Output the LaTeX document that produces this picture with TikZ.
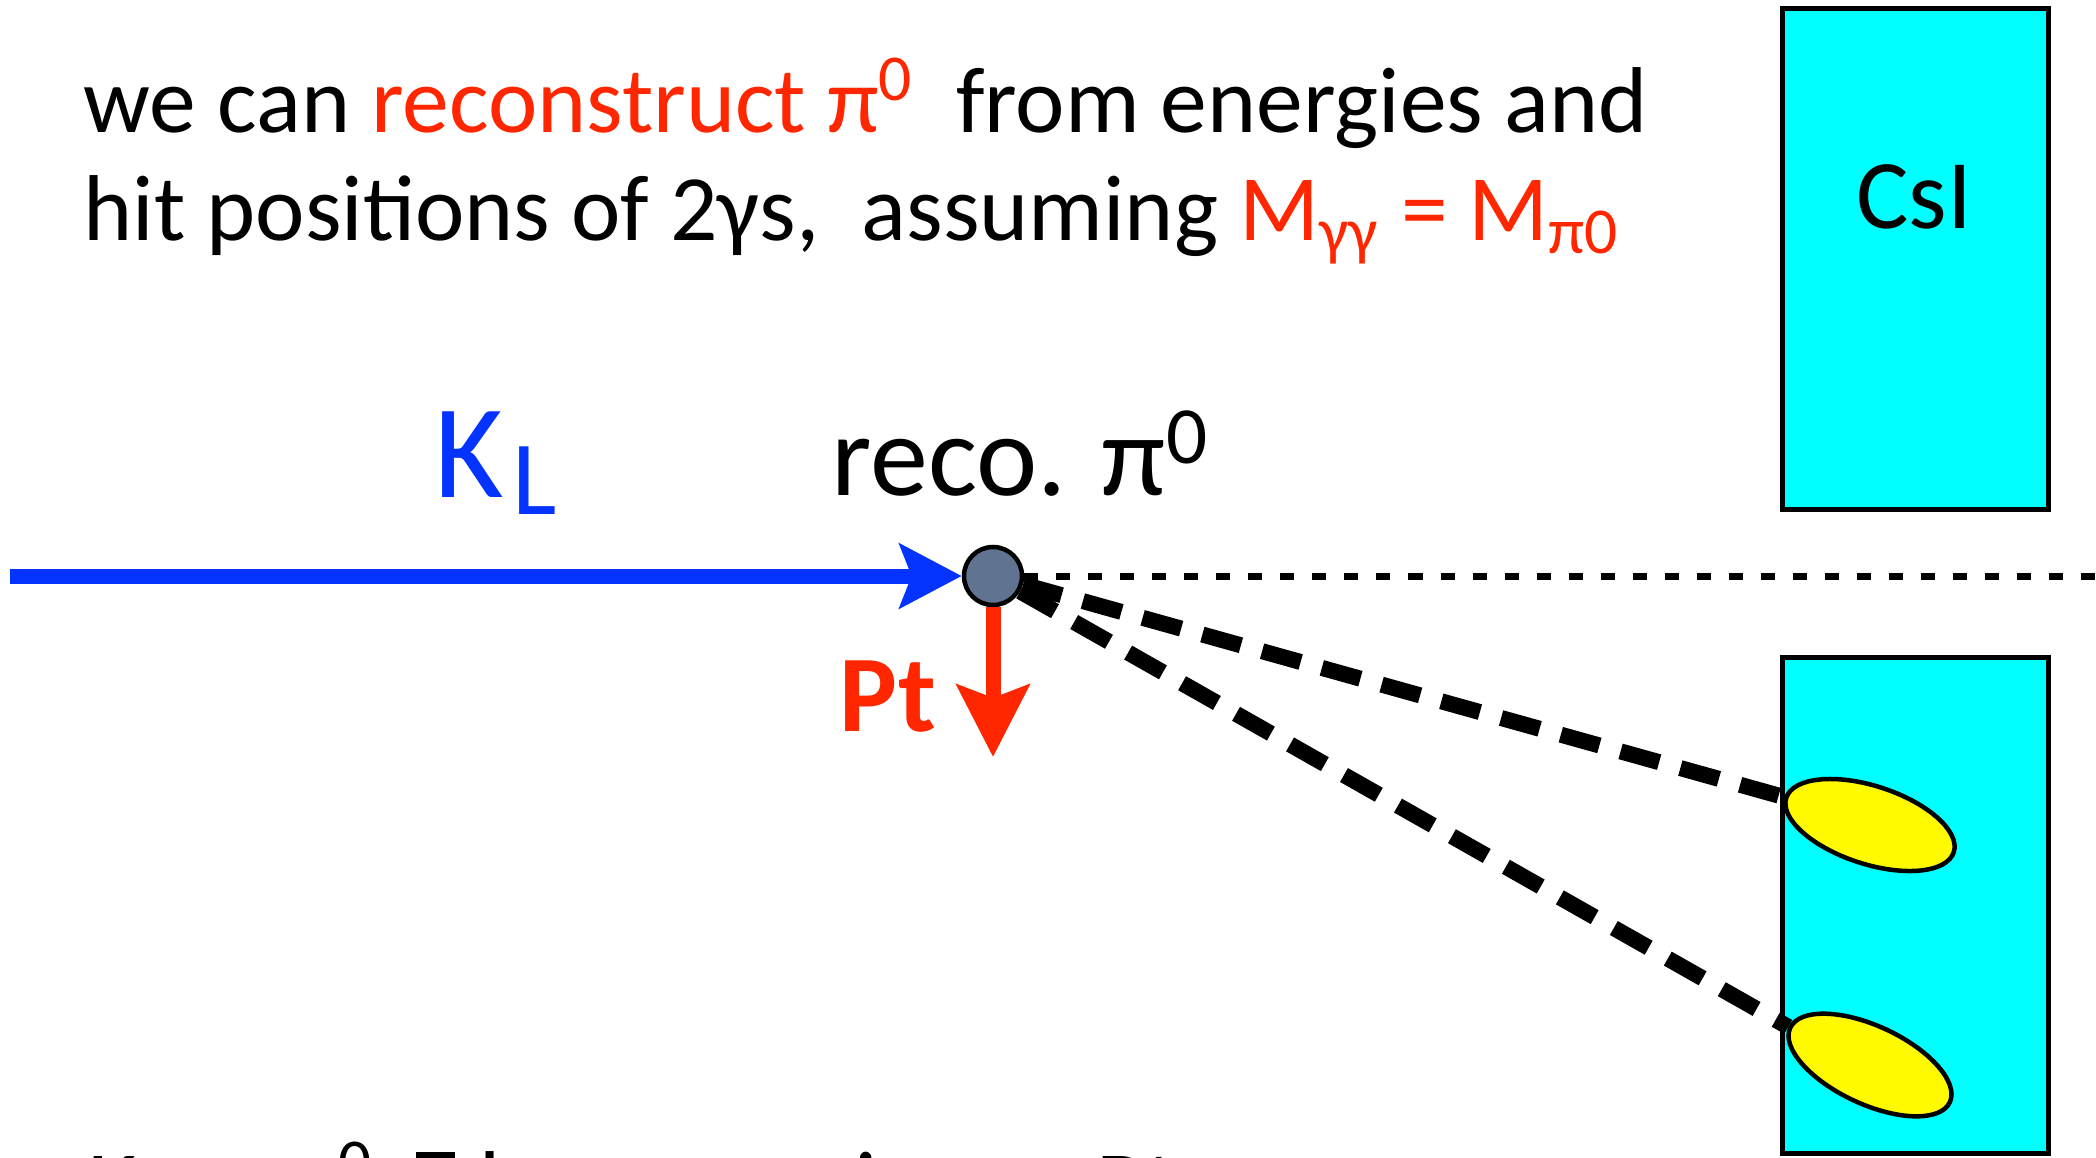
\documentclass[tikz,border=0pt]{standalone}
\usepackage{fontspec}
\setmainfont{Carlito}
\newfontfamily\arrowfont{DejaVu Sans}
\usetikzlibrary{arrows.meta,shapes.geometric,positioning}
\definecolor{keyred}{RGB}{255,38,0}
\definecolor{keyblue}{RGB}{4,51,255}
\definecolor{csicyan}{RGB}{0,255,255}
\definecolor{hityellow}{RGB}{255,250,0}
\definecolor{vtxgray}{RGB}{96,116,145}
\newcommand{\nubar}{\rlap{\raisebox{0.62em}{\rule{0.42em}{0.06em}}}ν}
\tikzset{
  slide/.style={anchor=base west, inner sep=0pt, font=\fontsize{26.6}{32}\selectfont},
  crystal/.style={draw, line width=0.05cm, fill=csicyan},
  hit/.style={ellipse, draw, line width=0.045cm, fill=hityellow, minimum width=1.76cm, minimum height=0.78cm, inner sep=0pt},
  vertex/.style={circle, draw, line width=0.045cm, fill=vtxgray, minimum size=0.58cm, inner sep=0pt},
  beam/.style={keyblue, line width=0.15cm, -{Stealth[length=0.62cm, width=0.64cm, inset=0.12cm]}},
  ptarrow/.style={keyred, line width=0.15cm, -{Stealth[length=0.72cm, width=0.72cm, inset=0.13cm]}},
  photon/.style={line width=0.16cm, dash pattern=on 0.40cm off 0.22cm},
  axisline/.style={line width=0.07cm, dash pattern=on 0.14cm off 0.18cm}
}
\begin{document}
\begin{tikzpicture}[x=0.01cm, y=-0.01cm]
\useasboundingbox (0,0) rectangle (2096,1157);
\clip (0,0) rectangle (2096,1157);
% text on top
\node[slide] (line1) at (83,132) {we can \textcolor{keyred}{reconstruct π\textsuperscript{0}}\ \ from energies and};
\node[slide] (line2) at (83,240) {hit positions of 2γs,\ \ assuming \textcolor{keyred}{M\textsubscript{γγ} = M\textsubscript{π0}}};
% CsI calorimeter
\draw[crystal] (1782,8) rectangle (2048,509);
\draw[crystal] (1782,657) rectangle (2048,1153);
\node[anchor=base, font=\fontsize{28}{30}\selectfont] (csi) at (1914,228) {CsI};
% photon hits
\node[hit, rotate=-18] (hitA) at (1870,825) {};
\node[hit, rotate=-25] (hitB) at (1870,1065) {};
% decay vertex
\node[vertex] (vtx) at (993,576) {};
\coordinate (kstart) at (10,576);
\coordinate (beamend) at (2110,576);
\coordinate (ptend) at (993,757);
\draw[axisline] (vtx) -- (beamend);
\draw[photon] (vtx) -- (hitA.west);
\draw[photon] (vtx) -- (hitB.west);
\draw[beam] (kstart) -- (vtx);
\draw[ptarrow] (vtx) -- (ptend);
\node[anchor=base west, inner sep=0pt, text=keyblue, font=\fontsize{38}{44}\selectfont] (klabel) at (434,497) {K\kern0.06em\raisebox{-0.13em}{\fontsize{30}{34}\selectfont L}};
\node[anchor=base west, inner sep=0pt, font=\fontsize{33}{40}\selectfont] (recolabel) at (831,495) {reco. π\textsuperscript{0}};
\node[anchor=base east, inner sep=0pt, text=keyred, font=\fontsize{31}{34}\selectfont\bfseries] (ptlabel) at (937,731) {Pt};
% cut line at the bottom
\node[slide] (bottomline) at (88,1216) {K\textsubscript{L} {\arrowfont →} π\textsuperscript{0}ν\nubar\ has a maximum Pt};
\end{tikzpicture}
\end{document}
